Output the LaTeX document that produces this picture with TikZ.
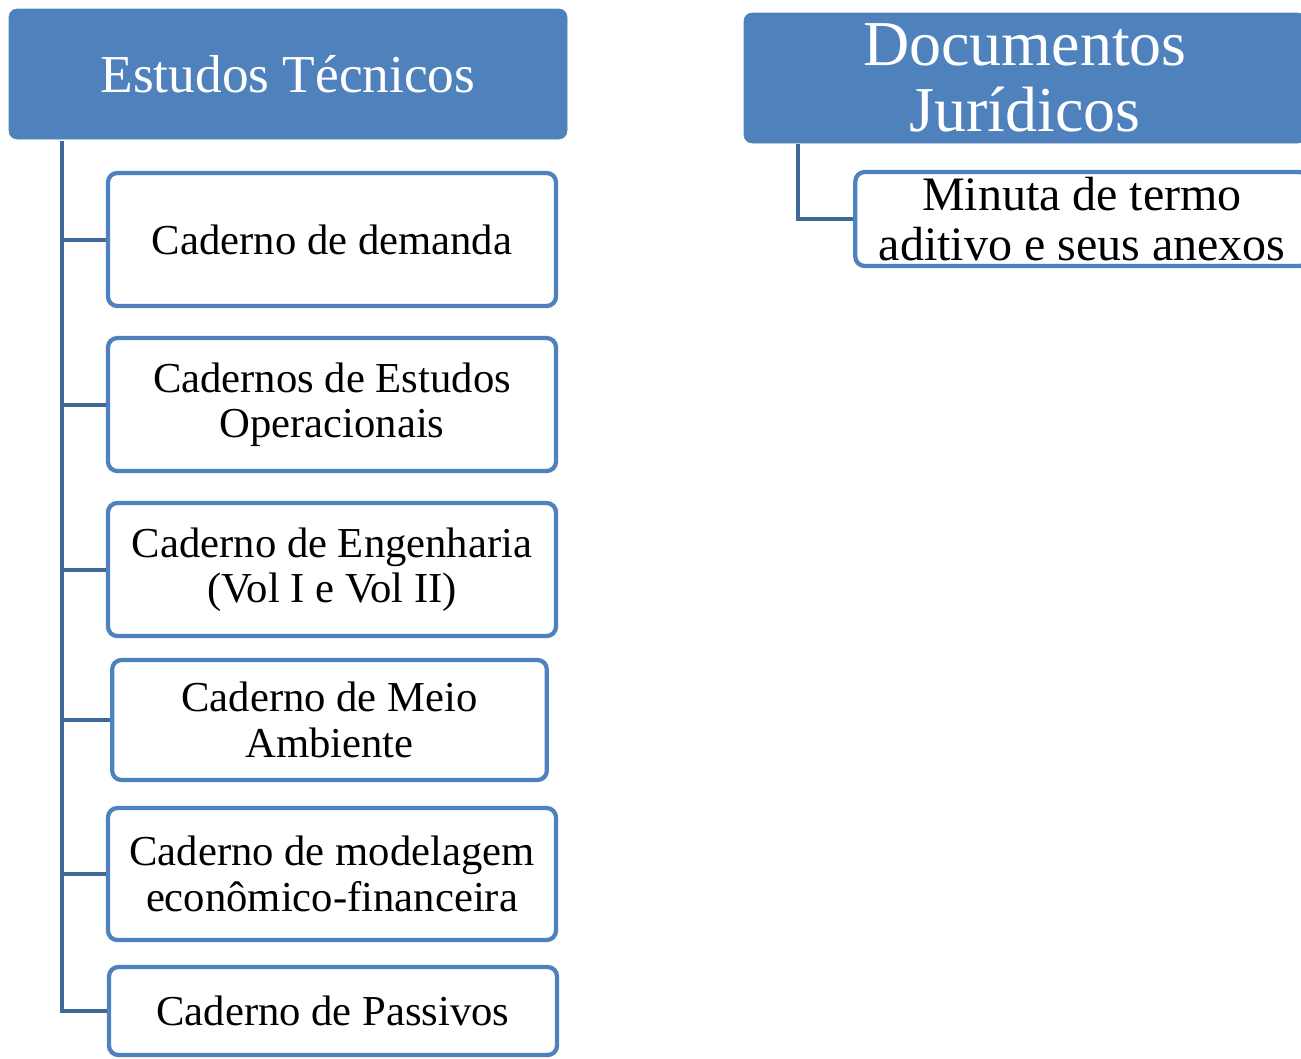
\documentclass[tikz,border=0pt]{standalone}
\usepackage{fontspec}
\setmainfont{Liberation Serif}
\usetikzlibrary{positioning}
\definecolor{headblue}{HTML}{4F81BD}
\definecolor{linkblue}{HTML}{3F6797}
\begin{document}
\begin{tikzpicture}[x=0.75pt,y=-0.75pt,
    header/.style={fill=headblue, draw=headblue, rounded corners=6pt, text=white,
      font=\fontsize{40}{49}\selectfont, align=center, inner sep=0pt,
      minimum height=97.5pt},
    item/.style={draw=headblue, line width=3.2pt, fill=white, rounded corners=7pt,
      align=center, inner sep=0pt, font=\fontsize{32}{34}\selectfont},
    link/.style={draw=linkblue, line width=3pt}]
    \useasboundingbox (0,0) rectangle (1301,1058);
    % cabecalhos
    \node[header, minimum width=418.5pt] (est) at (288,74) {Estudos Técnicos};
    \node[header, minimum width=421.5pt, font=\fontsize{48}{49}\selectfont] (jur) at (1025,78) {Documentos\\Jurídicos};
    % cadernos
    \node[item, minimum width=336pt, minimum height=99.75pt] (c1) at (332,239.5) {Caderno de demanda};
    \node[item, minimum width=336pt, minimum height=99.75pt] (c2) at (332,404.5) {Cadernos de Estudos\\Operacionais};
    \node[item, minimum width=336pt, minimum height=99.75pt] (c3) at (332,569.5) {Caderno de Engenharia\\(Vol I e Vol II)};
    \node[item, minimum width=326pt, minimum height=90pt] (c4) at (329.5,720) {Caderno de Meio\\Ambiente};
    \node[item, minimum width=336pt, minimum height=99pt] (c5) at (332,874) {Caderno de modelagem\\econômico-financeira};
    \node[item, minimum width=336pt, minimum height=66pt] (c6) at (333,1011) {Caderno de Passivos};
    \node[item, minimum width=340pt, minimum height=70.5pt, font=\fontsize{36}{37.5}\selectfont] (m1) at (1082,219) {Minuta de termo\\aditivo e seus anexos};
    % ligacoes
    \coordinate (trunk) at (62,141);
    \coordinate (jtrunk) at (798,144);
    \foreach \n in {c1,c2,c3,c4,c5,c6}
        \draw[link] (trunk) |- (\n.west);
    \draw[link] (jtrunk) |- (m1.west);
\end{tikzpicture}
\end{document}
